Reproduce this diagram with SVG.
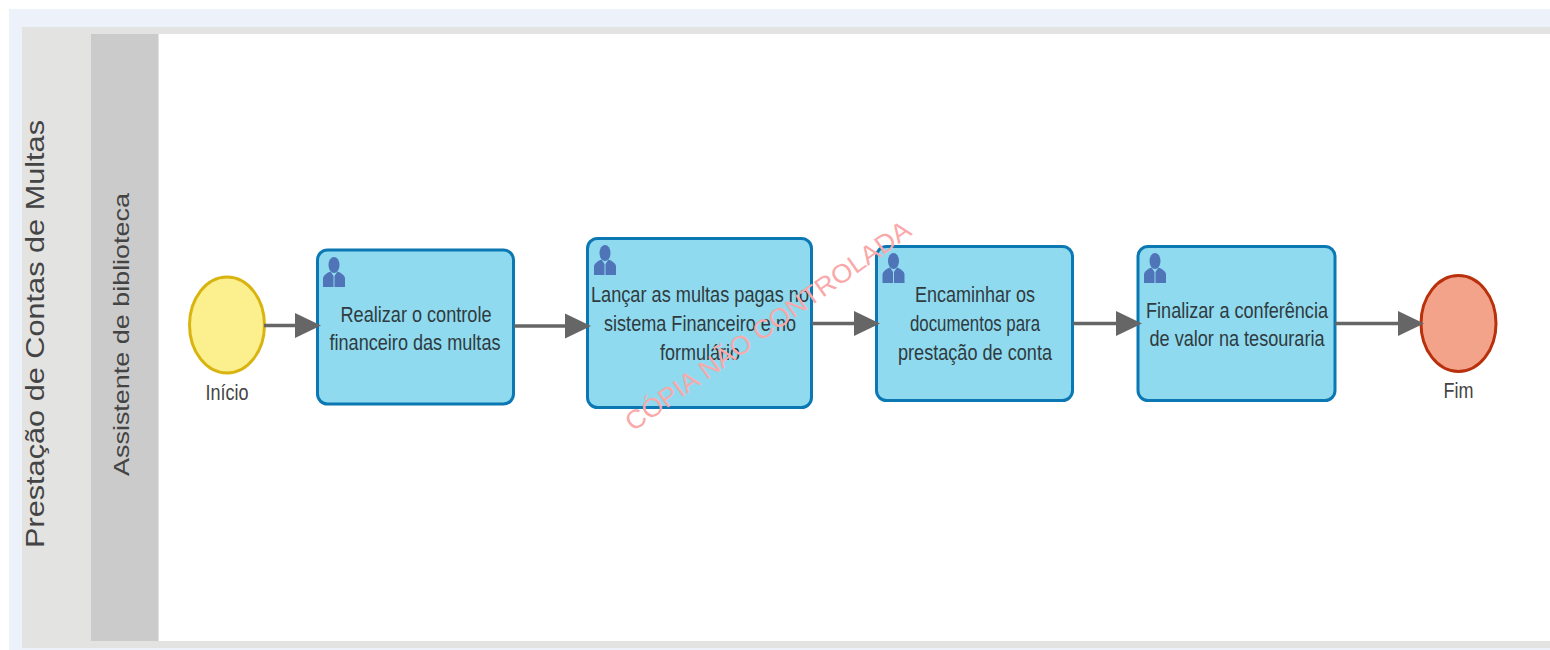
<svg xmlns="http://www.w3.org/2000/svg" width="1550" height="650" viewBox="0 0 1550 650">
<style>
text{font-family:"Liberation Sans",Arial,sans-serif;text-anchor:middle}
.t{font-size:21.5px;fill:#2f3b40}
.l{font-size:21.5px;fill:#444}
.h{fill:#444}
.task{fill:#8fdaef;stroke:#0b78b4;stroke-width:3}
.c{fill:none;stroke:#666;stroke-width:3.5}
.user{fill:#4f74b8}
.wm{font-size:26px;fill:#f9a9a9}
</style>
<defs>
<marker id="arrow" markerUnits="userSpaceOnUse" markerWidth="28" markerHeight="28" refX="20" refY="13" orient="auto"><path d="M0 0.500L26 13L0 25.500Z" fill="#666"/></marker>
<g id="user"><ellipse cx="11" cy="8" rx="5.500" ry="8"/><path d="M0 30V21Q1 17 7.500 14.500L10.500 19V30ZM22 30V21Q21 17 14.500 14.500L11.500 19V30Z"/></g>
</defs>
<rect width="1550" height="650" fill="#fff"/>
<rect x="9" y="9" width="1541" height="641" fill="#edf2fa"/>
<rect x="22" y="27" width="1528" height="621" fill="#e3e3e2"/>
<rect x="91" y="34" width="67" height="607" fill="#cbcbcb"/>
<rect x="159" y="34" width="1391" height="607" fill="#fff"/>
<text class="h" transform="translate(43.500 334) rotate(-90)" font-size="26" textLength="428" lengthAdjust="spacingAndGlyphs">Prestação de Contas de Multas</text>
<text class="h" transform="translate(129 334.500) rotate(-90)" font-size="22" textLength="283" lengthAdjust="spacingAndGlyphs">Assistente de biblioteca</text>
<g id="inicio"><ellipse cx="227" cy="325" rx="37.500" ry="48" fill="#fcef8e" stroke="#d9b40f" stroke-width="3"/><text class="l" x="227" y="400" textLength="43" lengthAdjust="spacingAndGlyphs">Início</text></g>
<g id="task1"><rect class="task" x="317.500" y="250" width="196" height="154" rx="10"/><use href="#user" class="user" x="323" y="257"/>
<text class="t" x="416" y="321.500" textLength="151" lengthAdjust="spacingAndGlyphs">Realizar o controle</text><text class="t" x="415" y="350" textLength="171" lengthAdjust="spacingAndGlyphs">financeiro das multas</text></g>
<g id="task2"><rect class="task" x="587.500" y="238.500" width="224" height="169" rx="10"/><use href="#user" class="user" x="594" y="245"/>
<text class="t" x="700" y="302" textLength="218" lengthAdjust="spacingAndGlyphs">Lançar as multas pagas no</text><text class="t" x="700" y="331" textLength="192" lengthAdjust="spacingAndGlyphs">sistema Financeiro e no</text><text class="t" x="700" y="359.500" textLength="80" lengthAdjust="spacingAndGlyphs">formulário</text></g>
<g id="task3"><rect class="task" x="876.500" y="246.500" width="196" height="154" rx="10"/><use href="#user" class="user" x="882.500" y="253"/>
<text class="t" x="975" y="302" textLength="120" lengthAdjust="spacingAndGlyphs">Encaminhar os</text><text class="t" x="975" y="331" textLength="130" lengthAdjust="spacingAndGlyphs">documentos para</text><text class="t" x="975" y="360" textLength="154" lengthAdjust="spacingAndGlyphs">prestação de conta</text></g>
<g id="task4"><rect class="task" x="1138" y="246.500" width="197" height="154" rx="10"/><use href="#user" class="user" x="1144" y="253"/>
<text class="t" x="1237" y="317.500" textLength="182" lengthAdjust="spacingAndGlyphs">Finalizar a conferência</text><text class="t" x="1237" y="346" textLength="175" lengthAdjust="spacingAndGlyphs">de valor na tesouraria</text></g>
<g id="fim"><ellipse cx="1458.500" cy="323.500" rx="37.500" ry="48" fill="#f3a389" stroke="#b9310c" stroke-width="3"/><text class="l" x="1458.500" y="398" textLength="30" lengthAdjust="spacingAndGlyphs">Fim</text></g>
<g id="connectors">
<path class="c" d="M264 325.500H315" marker-end="url(#arrow)"/>
<path class="c" d="M514 326H585" marker-end="url(#arrow)"/>
<path class="c" d="M812 323.500H874" marker-end="url(#arrow)"/>
<path class="c" d="M1073 323.500H1136" marker-end="url(#arrow)"/>
<path class="c" d="M1335 323.500H1418" marker-end="url(#arrow)"/>
</g>
<text class="wm" transform="translate(773 333) rotate(-35.300)" textLength="343" lengthAdjust="spacingAndGlyphs">CÓPIA NÃO CONTROLADA</text>
</svg>
